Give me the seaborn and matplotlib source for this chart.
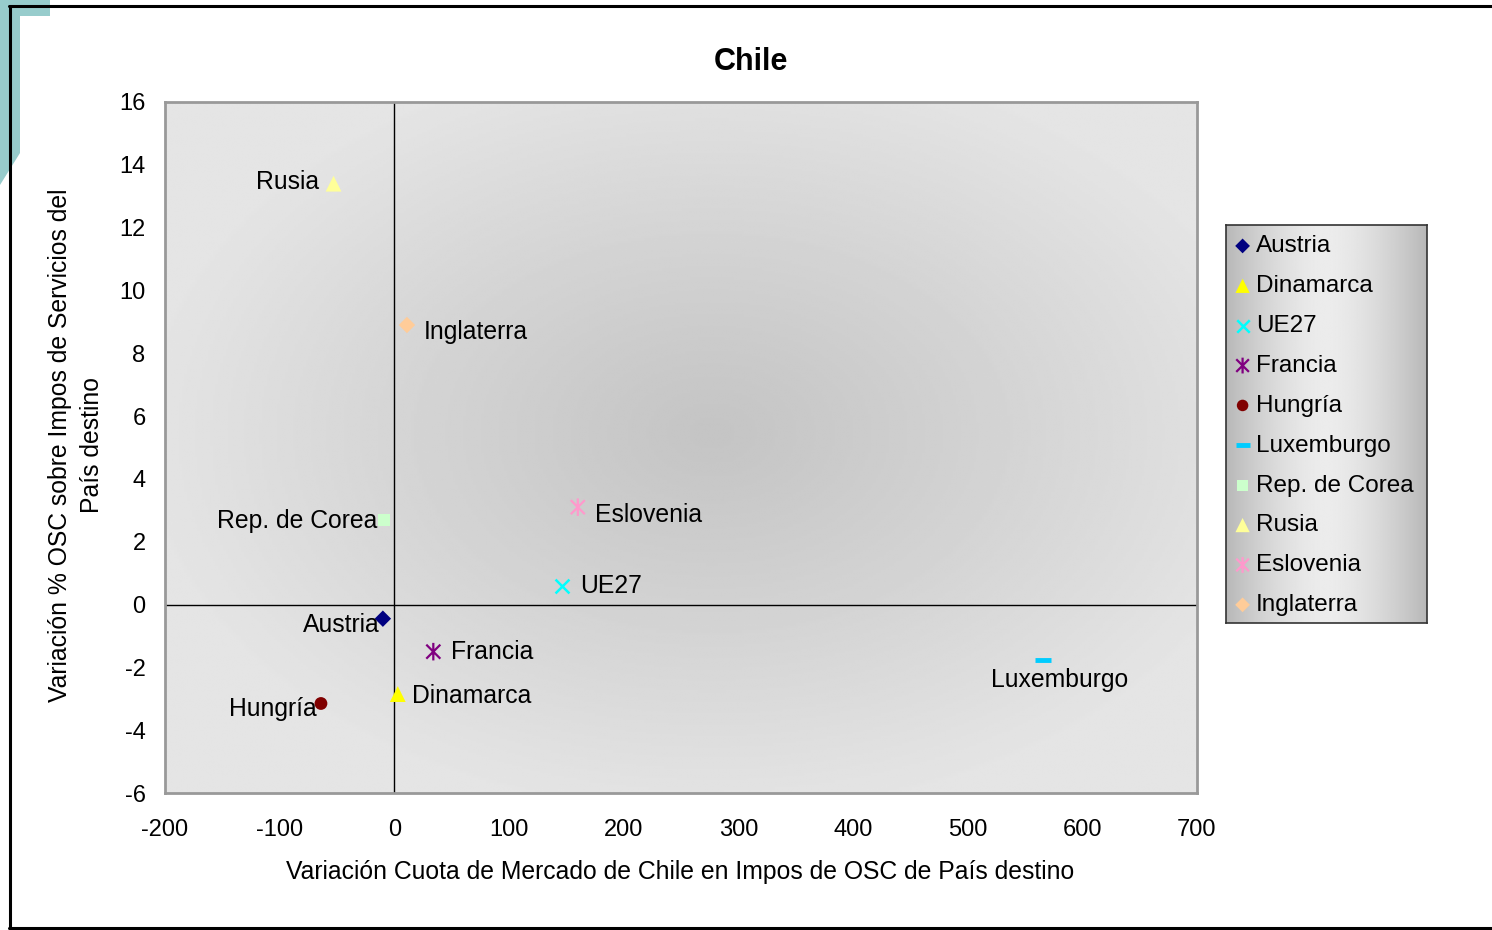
import numpy as np
import pandas as pd
import matplotlib
matplotlib.use("Agg")
import matplotlib.pyplot as plt
from matplotlib.path import Path
from matplotlib.patches import Polygon
from matplotlib.lines import Line2D
import seaborn as sns

# ---- data -------------------------------------------------------------
paises = ["Austria", "Dinamarca", "UE27", "Francia", "Hungría",
          "Luxemburgo", "Rep. de Corea", "Rusia", "Eslovenia", "Inglaterra"]
var_cuota = [-10, 3, 146, 34, -64, 566, -9, -53, 160, 11]
var_osc = [-0.45, -2.85, 0.6, -1.5, -3.15, -1.77, 2.7, 13.4, 3.1, 8.9]

x_ticks = [-200, -100, 0, 100, 200, 300, 400, 500, 600, 700]
y_ticks = [-6, -4, -2, 0, 2, 4, 6, 8, 10, 12, 14, 16]

df = pd.DataFrame({"pais": paises, "x": var_cuota, "y": var_osc})

# ---- styling ----------------------------------------------------------
sns.set_theme(style="white")
plt.rcParams["font.family"] = ["Liberation Sans", "DejaVu Sans"]
plt.rcParams["text.color"] = "black"
plt.rcParams["axes.labelcolor"] = "black"
plt.rcParams["xtick.color"] = "black"
plt.rcParams["ytick.color"] = "black"

asterisk = Path([(0, -1), (0, 1), (-0.8, -0.8), (0.8, 0.8),
                 (-0.8, 0.8), (0.8, -0.8)],
                [Path.MOVETO, Path.LINETO, Path.MOVETO, Path.LINETO,
                 Path.MOVETO, Path.LINETO])

estilos = {
    "Austria":       dict(marker="D", color="#000080", s=70),
    "Dinamarca":     dict(marker="^", color="#ffff00", s=130),
    "UE27":          dict(marker="x", color="#00ffff", s=100, lw=1.8),
    "Francia":       dict(marker=asterisk, color="#800080", s=160, lw=1.6),
    "Hungría":       dict(marker="o", color="#800000", s=85),
    "Luxemburgo":    dict(marker="_", color="#00ccff", s=130, lw=3.5),
    "Rep. de Corea": dict(marker="s", color="#ccffcc", s=75),
    "Rusia":         dict(marker="^", color="#ffff99", s=130),
    "Eslovenia":     dict(marker=asterisk, color="#ff99cc", s=160, lw=1.6),
    "Inglaterra":    dict(marker="D", color="#ffcc99", s=70),
}

# label offsets in pixels (dx, dy) and horizontal alignment
etiquetas = {
    "Austria":       (-3, -6, "right"),
    "Dinamarca":     (14, -2, "left"),
    "UE27":          (18, 0, "left"),
    "Francia":       (18, 0, "left"),
    "Hungría":       (-4, -6, "right"),
    "Luxemburgo":    (16, -20, "center"),
    "Rep. de Corea": (-7, -1, "right"),
    "Rusia":         (-14, 2, "right"),
    "Eslovenia":     (17, -8, "left"),
    "Inglaterra":    (17, -7, "left"),
}

W, H = 1492, 930
fig = plt.figure(figsize=(W / 100, H / 100), dpi=100)
fig.patch.set_facecolor("white")

# decorative teal corner and outer frame
corner = [(0, 0), (50, 0), (50, 16), (20, 16), (20, 153), (0, 185)]
teal = Polygon([(px / W, 1 - py / H) for px, py in corner], closed=True,
               facecolor="#97cccc", edgecolor="none",
               transform=fig.transFigure)
fig.add_artist(teal)
for (x0, y0, x1, y1) in [(9, 6, W, 6), (10, 6, 10, 928), (9, 928, W, 928)]:
    fig.add_artist(Line2D([x0 / W, x1 / W], [1 - y0 / H, 1 - y1 / H],
                          color="black", lw=2.2, transform=fig.transFigure))

# plot area
left, right, bottom, top = 165 / W, 1197 / W, 1 - 793 / H, 1 - 102 / H
ax = fig.add_axes([left, bottom, right - left, top - bottom])

# radial grey fill of the plot area
gx, gy = np.meshgrid(np.linspace(0, 1, 400), np.linspace(0, 1, 300))
u = (gx - 0.53) / 0.55
v = (gy - 0.52) / 0.55
d = np.clip(np.sqrt(u ** 2 + v ** 2), 0, 1)
shade = 0.77 + (0.895 - 0.77) * d ** 1.1
ax.imshow(shade, cmap="gray", vmin=0, vmax=1, extent=(-200, 700, -6, 16),
          aspect="auto", origin="lower", zorder=0, interpolation="bilinear")

ax.axvline(0, color="black", lw=1.0, zorder=1)
ax.axhline(0, color="black", lw=1.0, zorder=1)

for _, r in df.iterrows():
    st = estilos[r["pais"]]
    kw = dict(marker=st["marker"], s=st["s"], color=st["color"],
              label=r["pais"], zorder=3)
    if st["marker"] in ("x", "_") or isinstance(st["marker"], Path):
        kw["linewidth"] = st.get("lw", 1.5)
        kw["edgecolor"] = st["color"]
        kw["facecolor"] = "none" if isinstance(st["marker"], Path) else st["color"]
    else:
        kw["edgecolor"] = "none"
    sns.scatterplot(x=[r["x"]], y=[r["y"]], ax=ax, legend=False, **kw)
    dx, dy, ha = etiquetas[r["pais"]]
    ax.annotate(r["pais"], (r["x"], r["y"]), xytext=(dx, dy),
                textcoords="offset pixels", ha=ha, va="center",
                fontsize=17.8, color="black", zorder=4)

ax.set_xlim(-200, 700)
ax.set_ylim(-6, 16)
ax.set_xticks(x_ticks)
ax.set_yticks(y_ticks)
ax.set_xticklabels([str(t) for t in x_ticks])
ax.set_yticklabels([str(t) for t in y_ticks])
ax.tick_params(axis="both", length=0, labelsize=17, colors="black")
ax.tick_params(axis="y", pad=14)
ax.tick_params(axis="x", pad=19)
ax.set_xlabel("")
ax.set_ylabel("")
for sp in ax.spines.values():
    sp.set_color("#999999")
    sp.set_linewidth(2)
    sp.set_visible(True)
ax.grid(False)

fig.text(751 / W, 1 - 62 / H, "Chile", ha="center", va="center",
         fontsize=22, fontweight="bold", color="black")
fig.text(680 / W, 1 - 872 / H,
         "Variación Cuota de Mercado de Chile en Impos de OSC de País destino",
         ha="center", va="center", fontsize=17.8, color="black")
fig.text(76 / W, 1 - 445 / H,
         "Variación % OSC sobre Impos de Servicios del\nPaís destino",
         ha="center", va="center", rotation=90, fontsize=17.8,
         multialignment="center", linespacing=1.4, color="black")

# legend box with horizontal grey gradient
lx0, lx1, ly0, ly1 = 1226, 1427, 225, 623
lax = fig.add_axes([lx0 / W, 1 - ly1 / H, (lx1 - lx0) / W, (ly1 - ly0) / H])
t = np.linspace(-1, 1, 300)
band = 0.925 - (0.925 - 0.72) * np.abs(t) ** 1.6
lax.imshow(np.tile(band, (10, 1)), cmap="gray", vmin=0, vmax=1,
           aspect="auto", extent=(0, 1, 0, 1), interpolation="bilinear")
lax.set_xticks([])
lax.set_yticks([])
for sp in lax.spines.values():
    sp.set_color("#333333")
    sp.set_linewidth(1.2)

handles, labels = ax.get_legend_handles_labels()
leg = fig.legend(handles, labels, loc="upper left",
                 bbox_to_anchor=((lx0 + 2) / W, 1 - (ly0 + 3) / H),
                 frameon=False, fontsize=17.5, handlelength=0.6,
                 handletextpad=0.25, labelspacing=0.735, borderpad=0.3,
                 borderaxespad=0, markerscale=0.9)

fig.savefig("out.png", dpi=100, facecolor="white")
